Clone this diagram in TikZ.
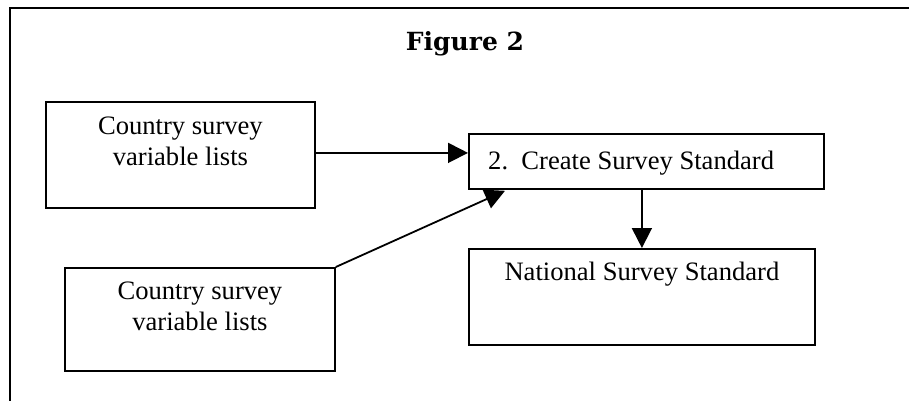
\documentclass[tikz,border=0pt]{standalone}
\usepackage{fontspec}
\setmainfont{Liberation Serif}
\newfontfamily\titlefont{DejaVu Serif}
\usetikzlibrary{arrows.meta,calc}
\begin{document}
\begin{tikzpicture}[x=1pt,y=-1pt,
  box/.style={draw,line width=1.8pt,inner sep=0pt,anchor=north west},
  lbl/.style={align=center,inner sep=0pt,anchor=north,font=\fontsize{26.6}{30.5}\selectfont},
  arr/.style={line width=1.8pt,-{Triangle[length=20pt,width=20pt]}},
  frame/.style={line width=2.8pt}]
\useasboundingbox (0,0) rectangle (909,401);
% frame
\coordinate (fl) at (10,401);
\coordinate (fc) at (10,8);
\coordinate (fr) at (909,8);
\draw[frame] (fl) -- (fc) -- (fr);
% title
\node[inner sep=0pt,font=\titlefont\bfseries\fontsize{25}{28}\selectfont] (title) at (465,44) {Figure 2};
% boxes
\node[box,minimum width=269pt,minimum height=106pt] (b1) at (45,101) {};
\node[box,minimum width=270pt,minimum height=103pt] (b2) at (64,267) {};
\node[box,minimum width=355pt,minimum height=55pt] (b3) at (468,133) {};
\node[box,minimum width=346pt,minimum height=96pt] (b4) at (468,248) {};
% labels
\node[lbl] (t1) at ([yshift=-16pt]b1.north) {Country survey\\variable lists};
\node[lbl] (t2) at ([yshift=-15pt]b2.north) {Country survey\\variable lists};
\node[lbl,anchor=north west] (t3) at ([xshift=20pt,yshift=-18pt]b3.north west) {2.\ \ Create Survey Standard};
\node[lbl] (t4) at ([yshift=-14pt]b4.north) {National Survey Standard};
% connectors
\coordinate (a1) at ([yshift=2pt]b1.east);
\draw[arr] (a1) -- (a1 -| b3.west);
\coordinate (a2) at ([xshift=37pt,yshift=-1pt]b3.south west);
\draw[arr] (b2.north east) -- (a2);
\draw[arr] (b4.north |- b3.south) -- (b4.north);
\end{tikzpicture}
\end{document}
